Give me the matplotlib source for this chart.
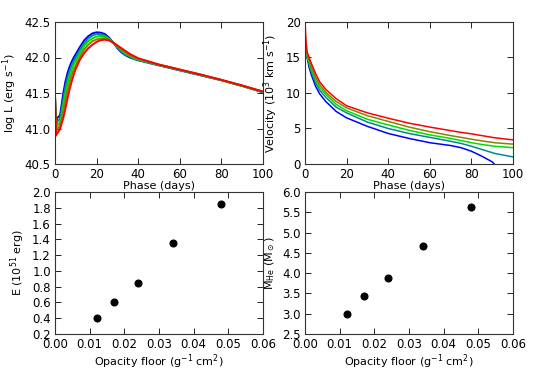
import matplotlib
matplotlib.use("Agg")
import matplotlib.pyplot as plt

plt.rcParams['font.family'] = ['DejaVu Sans']
plt.rcParams['mathtext.default'] = 'regular'
plt.rcParams['font.size'] = 8

colors = ['#0000ff', '#008b8b', '#00dd00', '#8b8000', '#ff0000']

# Luminosity light curves (phase in days, log L)
lum_phase = [0, 0.5, 1, 2, 2.5, 3, 4, 5, 6, 7, 8, 9, 10, 12, 14, 16, 18, 20, 22, 24, 26,
             28, 30, 32, 34, 36, 38, 40, 50, 60, 70, 80, 90, 100]
lum_m1 = [41.45, 41.05, 41.15, 41.17, 41.2, 41.3, 41.5, 41.66, 41.78, 41.87, 41.94, 42.0, 42.05,
          42.15, 42.24, 42.3, 42.34, 42.355, 42.35, 42.33, 42.28, 42.21, 42.13, 42.07, 42.03,
          42.0, 41.98, 41.96, 41.89, 41.82, 41.75, 41.68, 41.6, 41.51]
lum_m2 = [41.45, 41.0, 41.1, 41.12, 41.15, 41.23, 41.42, 41.58, 41.71, 41.81, 41.89, 41.95, 42.0,
          42.11, 42.2, 42.27, 42.31, 42.33, 42.33, 42.31, 42.27, 42.21, 42.14, 42.08, 42.04,
          42.01, 41.98, 41.965, 41.89, 41.82, 41.75, 41.68, 41.6, 41.51]
lum_m3 = [41.45, 40.97, 41.04, 41.07, 41.1, 41.16, 41.33, 41.49, 41.63, 41.74, 41.83, 41.9, 41.95,
          42.06, 42.16, 42.23, 42.27, 42.295, 42.305, 42.29, 42.26, 42.21, 42.15, 42.1, 42.05,
          42.02, 41.99, 41.97, 41.895, 41.825, 41.755, 41.68, 41.6, 41.515]
lum_m4 = [41.45, 40.94, 40.99, 41.02, 41.05, 41.1, 41.24, 41.39, 41.53, 41.65, 41.75, 41.83, 41.89,
          42.01, 42.11, 42.18, 42.23, 42.255, 42.27, 42.27, 42.25, 42.21, 42.16, 42.11, 42.07,
          42.03, 42.0, 41.98, 41.9, 41.83, 41.76, 41.685, 41.605, 41.52]
lum_m5 = [41.45, 40.9, 40.93, 40.97, 41.0, 41.05, 41.15, 41.28, 41.42, 41.55, 41.66, 41.76, 41.84,
          41.97, 42.06, 42.13, 42.18, 42.22, 42.245, 42.25, 42.24, 42.21, 42.17, 42.13, 42.09,
          42.05, 42.02, 41.99, 41.9, 41.83, 41.76, 41.685, 41.605, 41.52]

# Photospheric velocity (10^3 km/s)
vel_phase = [0, 0.5, 1, 2, 3, 5, 7, 10, 15, 20, 30, 40, 50, 60, 70, 75, 80, 85, 90, 91, 100]
vel_m1 = [16.5, 15.8, 15.0, 13.6, 12.6, 11.0, 9.9, 8.8, 7.4, 6.5, 5.3, 4.3, 3.6, 3.0, 2.6,
          2.3, 1.8, 1.1, 0.3, 0.0, None]
vel_m2 = [17.0, 16.0, 15.1, 14.0, 13.0, 11.5, 10.4, 9.4, 8.0, 7.2, 5.9, 5.0, 4.3, 3.75, 3.2,
          2.9, 2.5, 2.05, 1.6, 1.5, 1.0]
vel_m3 = [17.5, 16.2, 15.2, 14.3, 13.4, 11.9, 10.8, 9.8, 8.4, 7.5, 6.3, 5.5, 4.75, 4.1, 3.6,
          3.3, 3.0, 2.75, 2.55, 2.5, 2.3]
vel_m4 = [18.5, 16.6, 15.4, 14.6, 13.8, 12.3, 11.2, 10.1, 8.8, 7.9, 6.8, 6.0, 5.2, 4.55, 4.0,
          3.75, 3.5, 3.25, 3.05, 3.0, 2.8]
vel_m5 = [20.0, 17.2, 15.8, 15.0, 14.2, 12.8, 11.6, 10.5, 9.2, 8.2, 7.2, 6.45, 5.75, 5.2, 4.7,
          4.45, 4.25, 4.0, 3.75, 3.7, 3.4]

# Opacity floor vs. explosion parameters
opacity = [0.012, 0.017, 0.024, 0.034, 0.048]
energy = [0.40, 0.60, 0.85, 1.35, 1.85]
mass_he = [3.00, 3.44, 3.88, 4.68, 5.62]

fig = plt.figure(figsize=(5.40, 3.71), dpi=100)
W = 208 / 540
H = 142 / 371
ax1 = fig.add_axes([55 / 540, 1 - 164 / 371, W, H])
ax2 = fig.add_axes([305 / 540, 1 - 164 / 371, W, H])
ax3 = fig.add_axes([55 / 540, 1 - 334 / 371, W, H])
ax4 = fig.add_axes([305 / 540, 1 - 334 / 371, W, H])

for ys, c in zip([lum_m1, lum_m2, lum_m3, lum_m4, lum_m5], colors):
    ax1.plot(lum_phase, ys, color=c, lw=1.4)
ax1.set_xlim(0, 100)
ax1.set_ylim(40.5, 42.5)
ax1.set_yticks([40.5, 41.0, 41.5, 42.0, 42.5])
ax1.set_xticks([0, 20, 40, 60, 80, 100])
ax1.set_xlabel('Phase (days)', labelpad=0)
ax1.set_ylabel('log L (erg s$^{-1}$)')

for ys, c in zip([vel_m1, vel_m2, vel_m3, vel_m4, vel_m5], colors):
    xs = [p for p, v in zip(vel_phase, ys) if v is not None]
    vs = [v for v in ys if v is not None]
    ax2.plot(xs, vs, color=c, lw=1.1)
ax2.set_xlim(0, 100)
ax2.set_ylim(0, 20)
ax2.set_yticks([0, 5, 10, 15, 20])
ax2.set_xticks([0, 20, 40, 60, 80, 100])
ax2.set_xlabel('Phase (days)', labelpad=0)
ax2.set_ylabel('Velocity (10$^3$ km s$^{-1}$)')

ax3.plot(opacity, energy, 'o', color='black', ms=4.8)
ax3.set_xlim(0, 0.06)
ax3.set_ylim(0.2, 2.0)
ax3.set_yticks([0.2, 0.4, 0.6, 0.8, 1.0, 1.2, 1.4, 1.6, 1.8, 2.0])
ax3.set_xticks([0.0, 0.01, 0.02, 0.03, 0.04, 0.05, 0.06])
ax3.set_xticklabels(['0.00', '0.01', '0.02', '0.03', '0.04', '0.05', '0.06'])
ax3.set_xlabel('Opacity floor (g$^{-1}$ cm$^2$)', labelpad=1)
ax3.set_ylabel('E (10$^{51}$ erg)')

ax4.plot(opacity, mass_he, 'o', color='black', ms=4.8)
ax4.set_xlim(0, 0.06)
ax4.set_ylim(2.5, 6.0)
ax4.set_yticks([2.5, 3.0, 3.5, 4.0, 4.5, 5.0, 5.5, 6.0])
ax4.set_xticks([0.0, 0.01, 0.02, 0.03, 0.04, 0.05, 0.06])
ax4.set_xticklabels(['0.00', '0.01', '0.02', '0.03', '0.04', '0.05', '0.06'])
ax4.set_xlabel('Opacity floor (g$^{-1}$ cm$^2$)', labelpad=1)
ax4.set_ylabel(r'M$_{\rm He}$ (M$_\odot$)')

for ax in [ax1, ax2, ax3, ax4]:
    ax.tick_params(direction='in', top=True, right=True, length=4, width=0.6, pad=3, labelsize=8.5)
    for s in ax.spines.values():
        s.set_linewidth(0.8)
        s.set_color('#333333')

fig.savefig('out.png', dpi=100)
